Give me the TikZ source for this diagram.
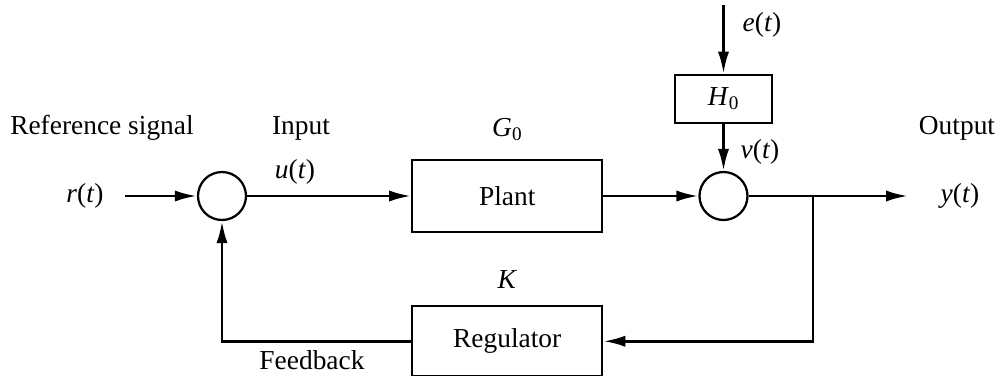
\documentclass[tikz,border=0pt]{standalone}
\usepackage{fontspec}
\setmainfont{Liberation Serif}
\usetikzlibrary{arrows.meta,positioning}
\newcommand{\sig}[1]{\textit{#1}(\textit{t})}
\newcommand{\blk}[1]{\textit{#1}\textsubscript{0}}
\tikzset{
  blockBox/.style={draw, line width=1.6pt, minimum width=4.75cm, minimum height=1.8cm, inner sep=0pt},
  smallBox/.style={draw, line width=1.6pt, minimum width=2.425cm, minimum height=1.2cm, inner sep=0pt},
  sumNode/.style={draw, circle, line width=1.6pt, minimum size=1.2cm, inner sep=0pt},
  sigArrow/.style={-{Latex[length=5.5mm,width=2.8mm]}, line width=2pt},
  sigLabel/.style={inner sep=0pt, align=center}
}

\begin{document}
\begin{tikzpicture}[font=\fontsize{19.5}{22}\selectfont]
  \useasboundingbox (0,0) rectangle (24.9,-9.375);
  \node[sumNode] (sumL) at (5.55,-4.9) {};
  \node[blockBox, right=4.1cm of sumL] (plant) {Plant};
  \node[sumNode, right=2.375cm of plant] (sumR) {};
  \node[smallBox, above=1.175cm of sumR] (h0) {\blk{H}};
  \node[blockBox, below=1.8cm of plant, minimum height=1.75cm] (reg) {Regulator};

  \coordinate (rStart) at (3.125,-4.9);
  \coordinate (eStart) at (sumR |- 0,-0.125);
  \coordinate (branch) at (20.325,-4.9);
  \coordinate (yEnd) at (22.7,-4.9);

  \node[sigLabel] (rLab) at (2.125,-4.9) {\sig{r}};
  \node[sigLabel] (refLab) at (2.55,-3.2) {Reference signal};
  \node[sigLabel] (inLab) at (7.525,-3.2) {Input};
  \node[sigLabel] (uLab) at (7.375,-4.3) {\sig{u}};
  \node[sigLabel, above=0.45cm of plant] (gLab) {\blk{G}};
  \node[sigLabel] (eLab) at (19.05,-0.625) {\sig{e}};
  \node[sigLabel] (vLab) at (19.0,-3.8) {\sig{v}};
  \node[sigLabel] (outLab) at (23.925,-3.2) {Output};
  \node[sigLabel] (yLab) at (24.0,-4.9) {\sig{y}};
  \node[sigLabel, above=0.4cm of reg] (kLab) {\textit{K}};
  \node[sigLabel] (fbLab) at (7.8,-9.0) {Feedback};

  \draw[sigArrow] (rStart) -- (sumL);
  \draw[sigArrow] (sumL) -- (plant);
  \draw[sigArrow] (plant) -- (sumR);
  \draw[sigArrow] (eStart) -- (h0);
  \draw[sigArrow] (h0) -- (sumR);
  \draw[sigArrow] (sumR) -- (yEnd);
  \draw[sigArrow] (branch) |- (reg);
  \draw[sigArrow] (reg) -| (sumL);
\end{tikzpicture}
\end{document}
